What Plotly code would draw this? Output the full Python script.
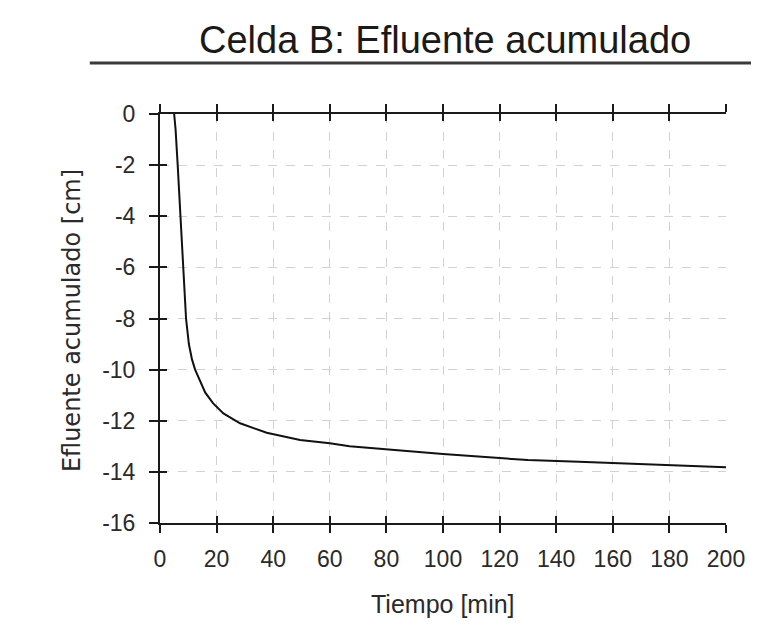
import plotly.graph_objects as go

# Tiempo [min] y efluente acumulado [cm]
tiempo = [5, 5.5, 6.2, 7.3, 8.1, 9.2, 10.2, 11.3, 12.4, 14.1, 16.0, 18.8, 22.4,
          28.3, 37.7, 49.5, 60, 67, 80, 100, 120, 130, 148, 173, 197, 200]
efluente = [0, -0.6, -1.9, -4.0, -6.0, -8.0, -9.0, -9.6, -10.0, -10.4, -10.9, -11.32, -11.71,
            -12.1, -12.47, -12.75, -12.88, -13.0, -13.12, -13.3, -13.46, -13.54, -13.6, -13.7, -13.8, -13.82]

x_ticks = list(range(0, 201, 20))
y_ticks = list(range(-16, 1, 2))
y_ticktext = [str(v) for v in y_ticks]  # guion simple, no el signo menos unicode

titulo = "Celda B: Efluente acumulado"
x_titulo = "Tiempo [min]"
y_titulo = "Efluente acumulado [cm]"

fig = go.Figure()
fig.add_trace(go.Scatter(x=tiempo, y=efluente, mode="lines",
                         line=dict(color="#111111", width=2), showlegend=False))
# trace vacia para que se dibujen los ejes superpuestos (ticks hacia dentro)
fig.add_trace(go.Scatter(x=[], y=[], xaxis="x2", yaxis="y2", showlegend=False, hoverinfo="skip"))

tickfont = dict(family="Liberation Sans, Arial", size=23, color="#2a2a2a")
axis_common = dict(showline=True, linecolor="#1a1a1a", linewidth=2,
                   tickcolor="#1a1a1a", tickwidth=2, zeroline=False)

# la pagina tiene 8px de margen en el body: la figura se ajusta a 751x616
fig.update_layout(
    width=751, height=616,
    margin=dict(l=152, r=33, t=106, b=101),
    paper_bgcolor="white", plot_bgcolor="white",
    xaxis=dict(range=[0, 200], tickvals=x_ticks, ticks="outside", mirror="ticks", ticklen=8,
               showgrid=True, gridcolor="#d2d2d2", griddash="dash", gridwidth=1,
               tickfont=tickfont, ticklabelstandoff=6, **axis_common),
    yaxis=dict(range=[-16, 0], tickvals=y_ticks, ticktext=y_ticktext, ticks="outside", ticklen=9,
               showgrid=True, gridcolor="#d2d2d2", griddash="dash", gridwidth=1,
               tickfont=tickfont, ticklabelstandoff=9, **axis_common),
    xaxis2=dict(overlaying="x", range=[0, 200], tickvals=x_ticks, ticks="inside", mirror="ticks",
                ticklen=7, showgrid=False, showticklabels=False, **axis_common),
    yaxis2=dict(overlaying="y", side="left", range=[-16, 0], tickvals=y_ticks, ticks="inside",
                ticklen=7, showgrid=False, showticklabels=False, **axis_common),
)

fig.add_annotation(text=titulo, xref="paper", yref="paper", x=0.503, y=1.181,
                   showarrow=False, xanchor="center", yanchor="middle",
                   font=dict(family="Liberation Sans, Arial", size=38, color="#1a1a1a"))
fig.add_shape(type="line", xref="paper", yref="paper", x0=-0.124, x1=1.07, y0=1.125, y1=1.125,
              line=dict(color="#3a3a3a", width=3))
fig.add_annotation(text=x_titulo, xref="paper", yref="paper", x=0.5, y=-0.197,
                   showarrow=False, xanchor="center", yanchor="middle",
                   font=dict(family="Liberation Sans, Arial", size=25, color="#2a2a2a"))
fig.add_annotation(text=y_titulo, xref="paper", yref="paper", x=-0.1555, y=0.496,
                   showarrow=False, xanchor="center", yanchor="middle", textangle=-90,
                   font=dict(family="DejaVu Sans", size=24, color="#2a2a2a"))

fig.write_html("out.html")
